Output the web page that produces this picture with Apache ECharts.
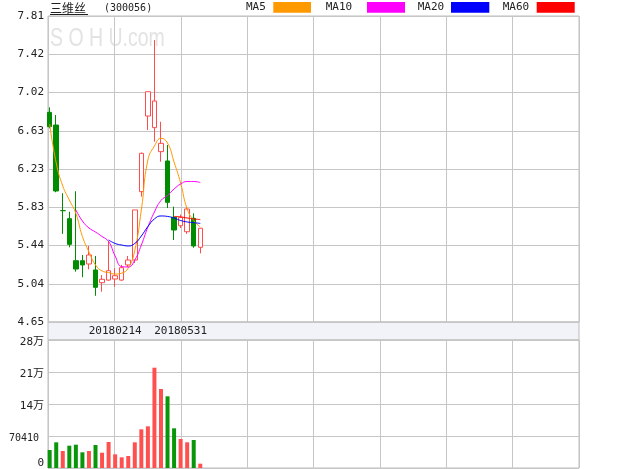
<!DOCTYPE html>
<html><head><meta charset="utf-8">
<script src="https://cdn.jsdelivr.net/npm/echarts@6/dist/echarts.min.js"></script>
<style>html,body{margin:0;padding:0;background:#fff}#c{width:640px;height:469px}</style>
</head><body><div id="c"></div>
<script>
// ---- data ----
const priceTicks = ['4.65','5.04','5.44','5.83','6.23','6.63','7.02','7.42','7.81'];
const priceMin = 4.65, priceMax = 7.81;
const volTicks = ['0','70410','14万','21万','28万'];
const volStep = 70410;
const dateTicks = [[10,'20180214'],[20,'20180531']];
const slotCount = 80;

const opens  = [6.815,6.684,5.80,5.717,5.283,5.283,5.249,5.187,5.056,5.083,5.094,5.083,5.239,5.290,5.996,6.777,6.657,6.409,6.313,5.731,5.644,5.582,5.721,5.421];
const closes = [6.667,6.003,5.80,5.452,5.197,5.239,5.342,5.008,5.091,5.180,5.128,5.211,5.290,5.807,6.392,7.028,6.932,6.495,5.886,5.600,5.731,5.817,5.435,5.618];
const lows   = [6.650,5.990,5.56,5.421,5.170,5.112,5.194,4.921,4.963,5.075,5.015,5.075,5.218,5.260,5.944,6.633,6.512,6.305,5.827,5.497,5.620,5.560,5.417,5.359];
const highs  = [6.867,6.788,5.98,5.789,6.000,5.342,5.435,5.332,5.135,5.486,5.204,5.240,5.332,5.807,6.400,7.028,7.562,6.718,6.478,5.841,5.760,5.841,5.772,5.618];

const volumes = [39600,56500,37400,49100,51300,34500,37400,50600,33700,57200,30100,23500,26400,56500,85100,91700,220700,173800,157700,87300,63800,56500,61600,9500];
const volRed  = [0,0,1,0,0,0,1,0,1,1,1,1,1,1,1,1,1,1,0,0,1,1,0,1];

const ma5  = [6.695,6.292,6.054,5.910,5.772,5.533,5.373,5.239,5.177,5.161,5.145,5.155,5.207,5.390,5.807,6.323,6.467,6.547,6.498,6.302,6.085,5.817,5.698,5.631];
const ma10 = [null,null,null,null,5.807,5.693,5.621,5.579,5.533,5.481,5.331,5.222,5.218,5.290,5.445,5.631,5.786,5.905,5.956,6.023,6.075,6.101,6.101,6.090];
const ma20 = [null,null,null,null,null,null,null,null,null,5.497,5.461,5.445,5.435,5.461,5.538,5.636,5.714,5.745,5.740,5.724,5.698,5.683,5.676,5.668];
const ma60 = [null,null,null,null,null,null,null,null,null,null,null,null,null,null,null,null,null,null,null,5.740,5.735,5.724,5.714,5.709];

// ---- derived ----
const categories = Array.from({length: slotCount}, (_, i) => String(i));
const dateMap = Object.fromEntries(dateTicks.map(d => [String(d[0]), d[1]]));
const kData = opens.map((o, i) => [o, closes[i], lows[i], highs[i]]);
const UP = '#ff4c4c', DOWN = '#008c00';
const volData = volumes.map((v, i) => ({value: v, itemStyle: {color: volRed[i] ? '#ff5050' : '#0a960a'}}));

const gridCol = '#c6c6c6';
const mono = '"DejaVu Sans Mono", "Noto Sans CJK SC", monospace';

const frameX = (g) => ({gridIndex: g, type: 'value', min: 0, max: 8, interval: 1,
  axisLine: {show: false}, axisTick: {show: false}, axisLabel: {show: false},
  splitLine: {show: true, lineStyle: {color: gridCol, width: 1}}});

const maLine = (name, data, color) => ({
  name, type: 'line', xAxisIndex: 1, yAxisIndex: 1, data, smooth: true, showSymbol: false,
  connectNulls: false, lineStyle: {color, width: 1}, itemStyle: {color}, z: 5, silent: true
});

const chart = echarts.init(document.getElementById('c'), null, {renderer: 'canvas'});
chart.setOption({
  animation: false,
  backgroundColor: '#fff',
  grid: [
    {left: 48, top: 16, width: 531, height: 306, show: true, borderColor: '#bcbcbc', borderWidth: 1, backgroundColor: 'transparent'},
    {left: 46.4, top: 16, width: 523.8, height: 306},
    {left: 48, top: 340, width: 531, height: 128, show: true, borderColor: '#bcbcbc', borderWidth: 1, backgroundColor: 'transparent'},
    {left: 46.4, top: 340, width: 523.8, height: 128}
  ],
  xAxis: [
    frameX(0),
    {gridIndex: 1, type: 'category', data: categories, boundaryGap: true, z: 10,
      axisLine: {show: false}, axisTick: {show: false}, splitLine: {show: false},
      axisLabel: {interval: 0, margin: 4, fontFamily: mono, fontSize: 11, color: '#222',
        formatter: (v) => dateMap[v] || ''}},
    frameX(2),
    {gridIndex: 3, type: 'category', data: categories, boundaryGap: true, show: false}
  ],
  yAxis: [
    {gridIndex: 0, type: 'value', min: 0, max: 8, interval: 1,
      axisLine: {show: false}, axisTick: {show: false},
      splitLine: {show: true, lineStyle: {color: gridCol}},
      axisLabel: {margin: 4, fontFamily: mono, fontSize: 11, color: '#222',
        formatter: (v) => priceTicks[Math.round(v)]}},
    {gridIndex: 1, type: 'value', min: priceMin, max: priceMax, show: false, splitLine: {show: false}},
    {gridIndex: 2, type: 'value', min: 0, max: volStep * 4, interval: volStep,
      axisLine: {show: false}, axisTick: {show: false},
      splitLine: {show: true, lineStyle: {color: gridCol}},
      axisLabel: {margin: 4, fontFamily: mono, fontSize: 11, color: '#222',
        formatter: (v) => {
          const k = Math.round(v / volStep);
          if (k === 0) return '{z|' + volTicks[k] + '}';
          if (k === 1) return '{s|' + volTicks[k] + '}';
          return '{n|' + volTicks[k] + '}';
        },
        rich: {
          z: {fontFamily: mono, fontSize: 11, color: '#222', padding: [0, 0, 10, 0]},
          s: {fontFamily: mono, fontSize: 10, color: '#222', padding: [4, 5, 0, 0]},
          n: {fontFamily: mono, fontSize: 11, color: '#222', padding: [4, 0, 0, 0]}
        }}},
    {gridIndex: 3, type: 'value', min: 0, max: volStep * 4, show: false, splitLine: {show: false}}
  ],
  graphic: [
    {type: 'rect', z: -1, shape: {x: 48, y: 322, width: 531, height: 18},
      style: {fill: '#f1f3f8', stroke: '#bcbcbc', lineWidth: 1}},
    {type: 'text', x: 50, y: 26, z: -2, scaleX: 0.75,
      style: {text: 'S O H U.com', font: '26px "Liberation Sans", Arial, sans-serif', fill: '#e3e3e3'}},
    {type: 'text', x: 50, y: 2, style: {text: '三维丝', font: '12px "Noto Sans CJK SC", sans-serif', fill: '#222'}},
    {type: 'line', shape: {x1: 50, y1: 14.5, x2: 88, y2: 14.5}, style: {stroke: '#222', lineWidth: 1}},
    {type: 'text', x: 104, y: 3, style: {text: '(300056)', font: '10px "DejaVu Sans Mono", monospace', fill: '#222'}},
    {type: 'text', x: 246, y: 2, style: {text: 'MA5', font: '11px "DejaVu Sans Mono", monospace', fill: '#222'}},
    {type: 'rect', shape: {x: 273.3, y: 2, width: 37.7, height: 10.7}, style: {fill: '#ff9900'}},
    {type: 'text', x: 325.7, y: 2, style: {text: 'MA10', font: '11px "DejaVu Sans Mono", monospace', fill: '#222'}},
    {type: 'rect', shape: {x: 367, y: 2, width: 38, height: 10.7}, style: {fill: '#ff00ff'}},
    {type: 'text', x: 417.7, y: 2, style: {text: 'MA20', font: '11px "DejaVu Sans Mono", monospace', fill: '#222'}},
    {type: 'rect', shape: {x: 451, y: 2, width: 38.3, height: 10.7}, style: {fill: '#0000ff'}},
    {type: 'text', x: 502.7, y: 2, style: {text: 'MA60', font: '11px "DejaVu Sans Mono", monospace', fill: '#222'}},
    {type: 'rect', shape: {x: 536.7, y: 2, width: 38, height: 10.7}, style: {fill: '#ff0000'}}
  ],
  series: [
    {name: 'K', type: 'candlestick', xAxisIndex: 1, yAxisIndex: 1, data: kData, barWidth: 5, z: 3,
      itemStyle: {color: '#ffffff', color0: DOWN, borderColor: UP, borderColor0: DOWN, borderWidth: 1}},
    maLine('MA5', ma5, '#ff9900'),
    maLine('MA10', ma10, '#ff00ff'),
    maLine('MA20', ma20, '#0000ff'),
    maLine('MA60', ma60, '#ff0000'),
    {name: 'VOL', type: 'bar', xAxisIndex: 3, yAxisIndex: 3, data: volData, barWidth: 4}
  ]
});
</script></body></html>
